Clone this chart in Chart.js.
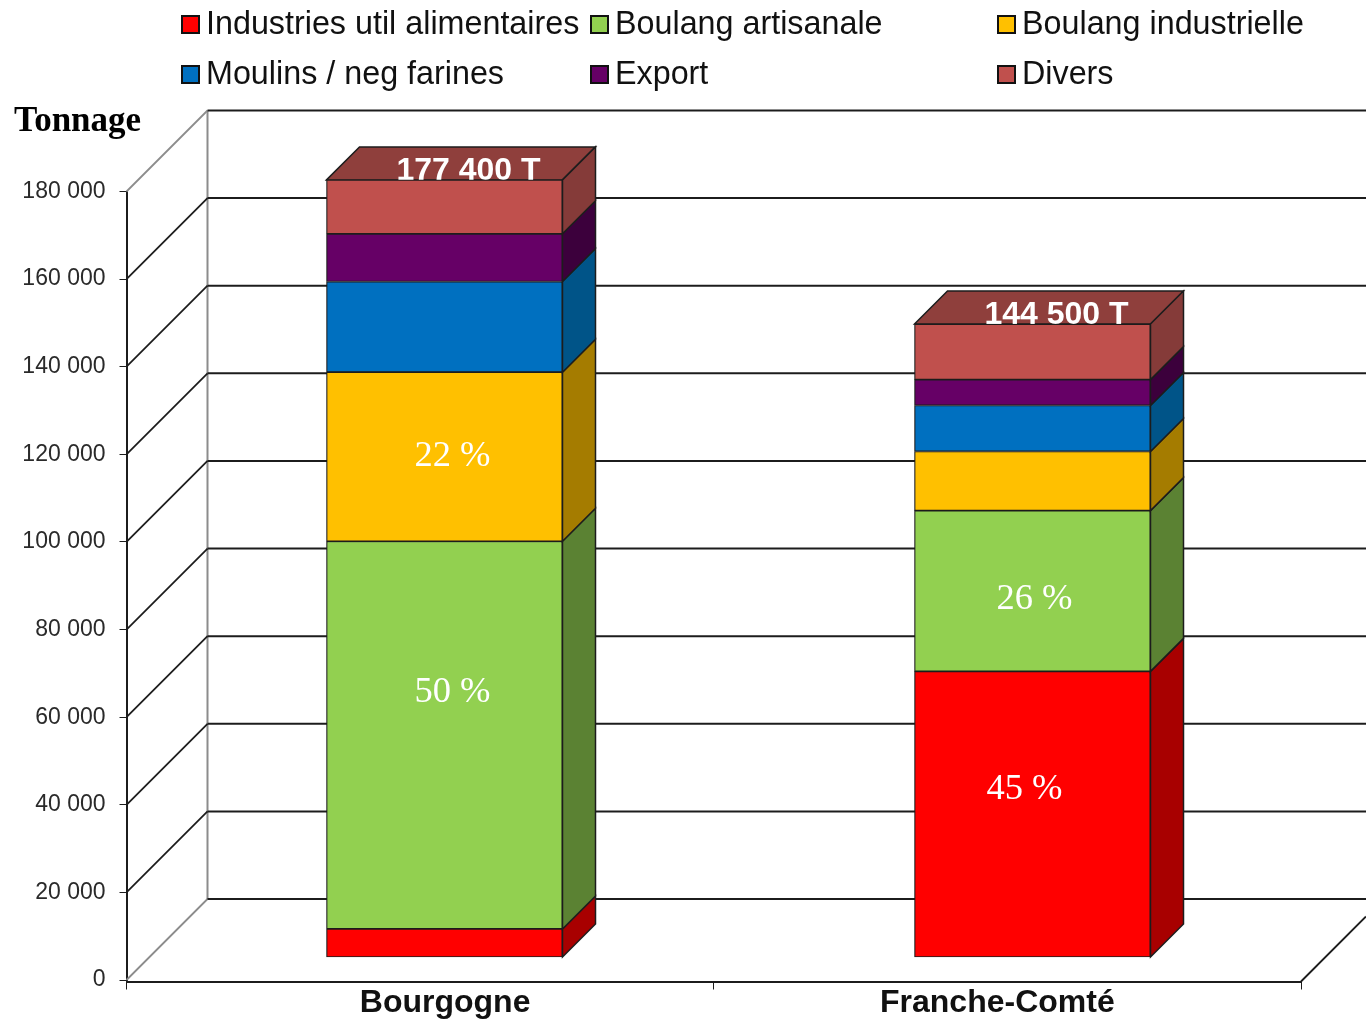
<!DOCTYPE html>
<html>
<head>
<meta charset="utf-8">
<title>Tonnage</title>
<script src="https://cdn.jsdelivr.net/npm/chart.js@4/dist/chart.umd.min.js"></script>
<style>
html, body { margin: 0; padding: 0; background: #fff; }
#wrap { width: 1366px; height: 1020px; overflow: hidden; }
</style>
</head>
<body>
<div id="wrap"><canvas id="tonnageChart" width="1366" height="1020"></canvas></div>
<script>
var regions = ["Bourgogne", "Franche-Comté"];
var seriesNames = ["Industries util alimentaires", "Boulang artisanale", "Boulang industrielle", "Moulins / neg farines", "Export", "Divers"];

var industries = [6400, 65200];
var artisanale = [88500, 36700];
var industrielle = [38600, 13500];
var moulins = [20700, 10500];
var exportVol = [10900, 5900];
var divers = [12300, 12700];

var totalLabels = ["177 400 T", "144 500 T"];
var percentIndustries = ["", "45 %"];
var percentArtisanale = ["50 %", "26 %"];
var percentIndustrielle = ["22 %", ""];

var tickValues = [0, 20000, 40000, 60000, 80000, 100000, 120000, 140000, 160000, 180000];
var tickMax = 180000;

var frontColors = ["#ff0000", "#92d050", "#ffc000", "#0070c0", "#660066", "#c0504d"];
var sideColors = ["#a80000", "#5b8233", "#a57c00", "#005488", "#3c003c", "#853b39"];
var topColor = "#8f3f3c";
var lineColor = "#1c1c1c";
var wallGrey = "#8c8c8c";

// pseudo 3D geometry, pixels
var wallDx = 81, wallDy = 81;
var barDepth = 33;
var barLift = 23;
var pxPerUnit = (980 - 191.5) / tickMax;
var barZeroX = 444.5, barStepX = 588;
var areaLeft = 126.5, areaRight = 1301;

var seriesValues = [industries, artisanale, industrielle, moulins, exportVol, divers];

function makeDataset(i) {
	return {
		label: seriesNames[i],
		data: regions.map(function (r, k) { return { x: k, y: seriesValues[i][k] }; }),
		backgroundColor: frontColors[i],
		borderColor: lineColor,
		borderWidth: 1.2,
		borderSkipped: false,
		barThickness: 236,
		xAxisID: "xBar",
		yAxisID: "yBar",
		clip: false
	};
}

function poly(ctx, pts, fill) {
	ctx.beginPath();
	ctx.moveTo(pts[0][0], pts[0][1]);
	for (var i = 1; i < pts.length; i++) ctx.lineTo(pts[i][0], pts[i][1]);
	ctx.closePath();
	ctx.fillStyle = fill;
	ctx.fill();
	ctx.lineWidth = 1.5;
	ctx.strokeStyle = lineColor;
	ctx.stroke();
}

function seg(ctx, x1, y1, x2, y2, color, w) {
	ctx.beginPath();
	ctx.moveTo(x1, y1);
	ctx.lineTo(x2, y2);
	ctx.strokeStyle = color;
	ctx.lineWidth = w;
	ctx.stroke();
}

var walls3d = {
	id: "walls3d",
	beforeDatasetsDraw: function (chart) {
		var ctx = chart.ctx, y = chart.scales.y, left = chart.scales.x.left;
		ctx.save();
		var backX = left + wallDx;
		seg(ctx, backX, y.getPixelForValue(tickMax) - wallDy, backX, y.getPixelForValue(0) - wallDy, wallGrey, 2);
		tickValues.forEach(function (v) {
			var py = y.getPixelForValue(v);
			var edge = v === 0 || v === tickMax;
			seg(ctx, left, py, backX, py - wallDy, edge ? wallGrey : lineColor, 1.8);
			seg(ctx, backX, py - wallDy, 1366, py - wallDy, lineColor, 2);
		});
		// right edge of the floor
		seg(ctx, chart.scales.x.right, y.bottom, 1366, y.bottom - 65, lineColor, 1.8);

		// top face and total sit behind the front of the bar
		var lastMeta = chart.getDatasetMeta(seriesNames.length - 1);
		lastMeta.data.forEach(function (bar, k) {
			var l = bar.x - bar.width / 2, r = bar.x + bar.width / 2;
			poly(ctx, [[l, bar.y], [l + barDepth, bar.y - barDepth], [r + barDepth, bar.y - barDepth], [r, bar.y]], topColor);
			ctx.fillStyle = "#ffffff";
			ctx.font = "bold 32px 'Liberation Sans'";
			ctx.textAlign = "center";
			ctx.textBaseline = "alphabetic";
			ctx.fillText(totalLabels[k], bar.x + 24, bar.y);
		});
		ctx.restore();
	},
	afterDatasetsDraw: function (chart) {
		var ctx = chart.ctx;
		ctx.save();
		seriesNames.forEach(function (name, i) {
			chart.getDatasetMeta(i).data.forEach(function (bar) {
				var r = bar.x + bar.width / 2;
				poly(ctx, [[r, bar.y], [r + barDepth, bar.y - barDepth], [r + barDepth, bar.base - barDepth], [r, bar.base]], sideColors[i]);
			});
		});
		// percent labels, placed by hand in the source as well
		ctx.fillStyle = "#ffffff";
		ctx.font = "36.5px 'Liberation Serif'";
		ctx.textAlign = "center";
		ctx.textBaseline = "middle";
		var b0 = chart.getDatasetMeta(0).data, b1 = chart.getDatasetMeta(1).data, b2 = chart.getDatasetMeta(2).data;
		ctx.fillText(percentIndustries[1], b0[1].x - 8, b0[1].y + 118);
		ctx.fillText(percentArtisanale[0], b1[0].x + 8, b1[0].y + 151);
		ctx.fillText(percentArtisanale[1], b1[1].x + 2, b1[1].y + 89);
		ctx.fillText(percentIndustrielle[0], b2[0].x + 8, b2[0].y + 84);
		ctx.restore();
	},
	afterDraw: function (chart) {
		var ctx = chart.ctx;
		ctx.save();
		// legend, three aligned columns on two rows
		var colX = [181, 590, 997], rowY = [15, 65];
		ctx.textAlign = "left";
		ctx.textBaseline = "alphabetic";
		seriesNames.forEach(function (name, i) {
			var cx = colX[i % 3], cy = rowY[Math.floor(i / 3)];
			ctx.fillStyle = frontColors[i];
			ctx.fillRect(cx + 1, cy + 1, 17, 17);
			ctx.strokeStyle = "#111";
			ctx.lineWidth = 2;
			ctx.strokeRect(cx + 1, cy + 1, 17, 17);
			ctx.fillStyle = "#111";
			ctx.font = "32.3px 'Liberation Sans'";
			ctx.fillText(name, cx + 25, cy + 19);
		});
		ctx.font = "bold 35px 'Liberation Serif'";
		ctx.fillStyle = "#000";
		ctx.fillText("Tonnage", 14, 131);
		// category names are not centred under the bars in the source
		var xs = chart.scales.x;
		ctx.font = "bold 32px 'Liberation Sans'";
		ctx.fillStyle = "#111";
		ctx.textAlign = "center";
		ctx.fillText(regions[0], xs.getPixelForValue(0) + 25, 1012);
		ctx.fillText(regions[1], xs.getPixelForValue(1) - 10, 1012);
		ctx.restore();
	}
};

new Chart(document.getElementById("tonnageChart").getContext("2d"), {
	type: "bar",
	data: {
		labels: regions,
		datasets: seriesNames.map(function (n, i) { return makeDataset(i); })
	},
	plugins: [walls3d],
	options: {
		responsive: false,
		animation: false,
		layout: { padding: { top: 191.5, right: 1366 - areaRight, bottom: 0, left: 0 } },
		plugins: { legend: { display: false }, title: { display: false }, tooltip: { enabled: false } },
		scales: {
			x: {
				type: "category",
				offset: true,
				grid: { display: true, drawOnChartArea: false, drawTicks: true, tickLength: 8, color: lineColor, offset: true },
				border: { display: true, color: lineColor, width: 2 },
				ticks: { display: false },
				afterFit: function (scale) { scale.height = 1020 - 981.5; }
			},
			y: {
				type: "linear",
				min: -340,
				max: tickMax,
				grid: { display: true, drawOnChartArea: false, drawTicks: true, tickLength: 7, color: lineColor },
				border: { display: true, color: lineColor, width: 2 },
				afterBuildTicks: function (scale) {
					scale.ticks = tickValues.map(function (v) { return { value: v }; });
				},
				ticks: {
					padding: 14,
					color: "#2a2a2a",
					font: { family: "'Liberation Sans'", size: 23 },
					callback: function (v) { return String(v).replace(/\B(?=(\d{3})+$)/g, " "); }
				},
				afterFit: function (scale) { scale.width = areaLeft; }
			},
			xBar: {
				type: "linear",
				display: false,
				stacked: true,
				offset: false,
				min: (areaLeft - barZeroX) / barStepX,
				max: (areaRight - barZeroX) / barStepX
			},
			yBar: {
				type: "linear",
				display: false,
				stacked: true,
				min: -340 - barLift / pxPerUnit,
				max: tickMax - barLift / pxPerUnit
			}
		}
	}
});
</script>
</body>
</html>
